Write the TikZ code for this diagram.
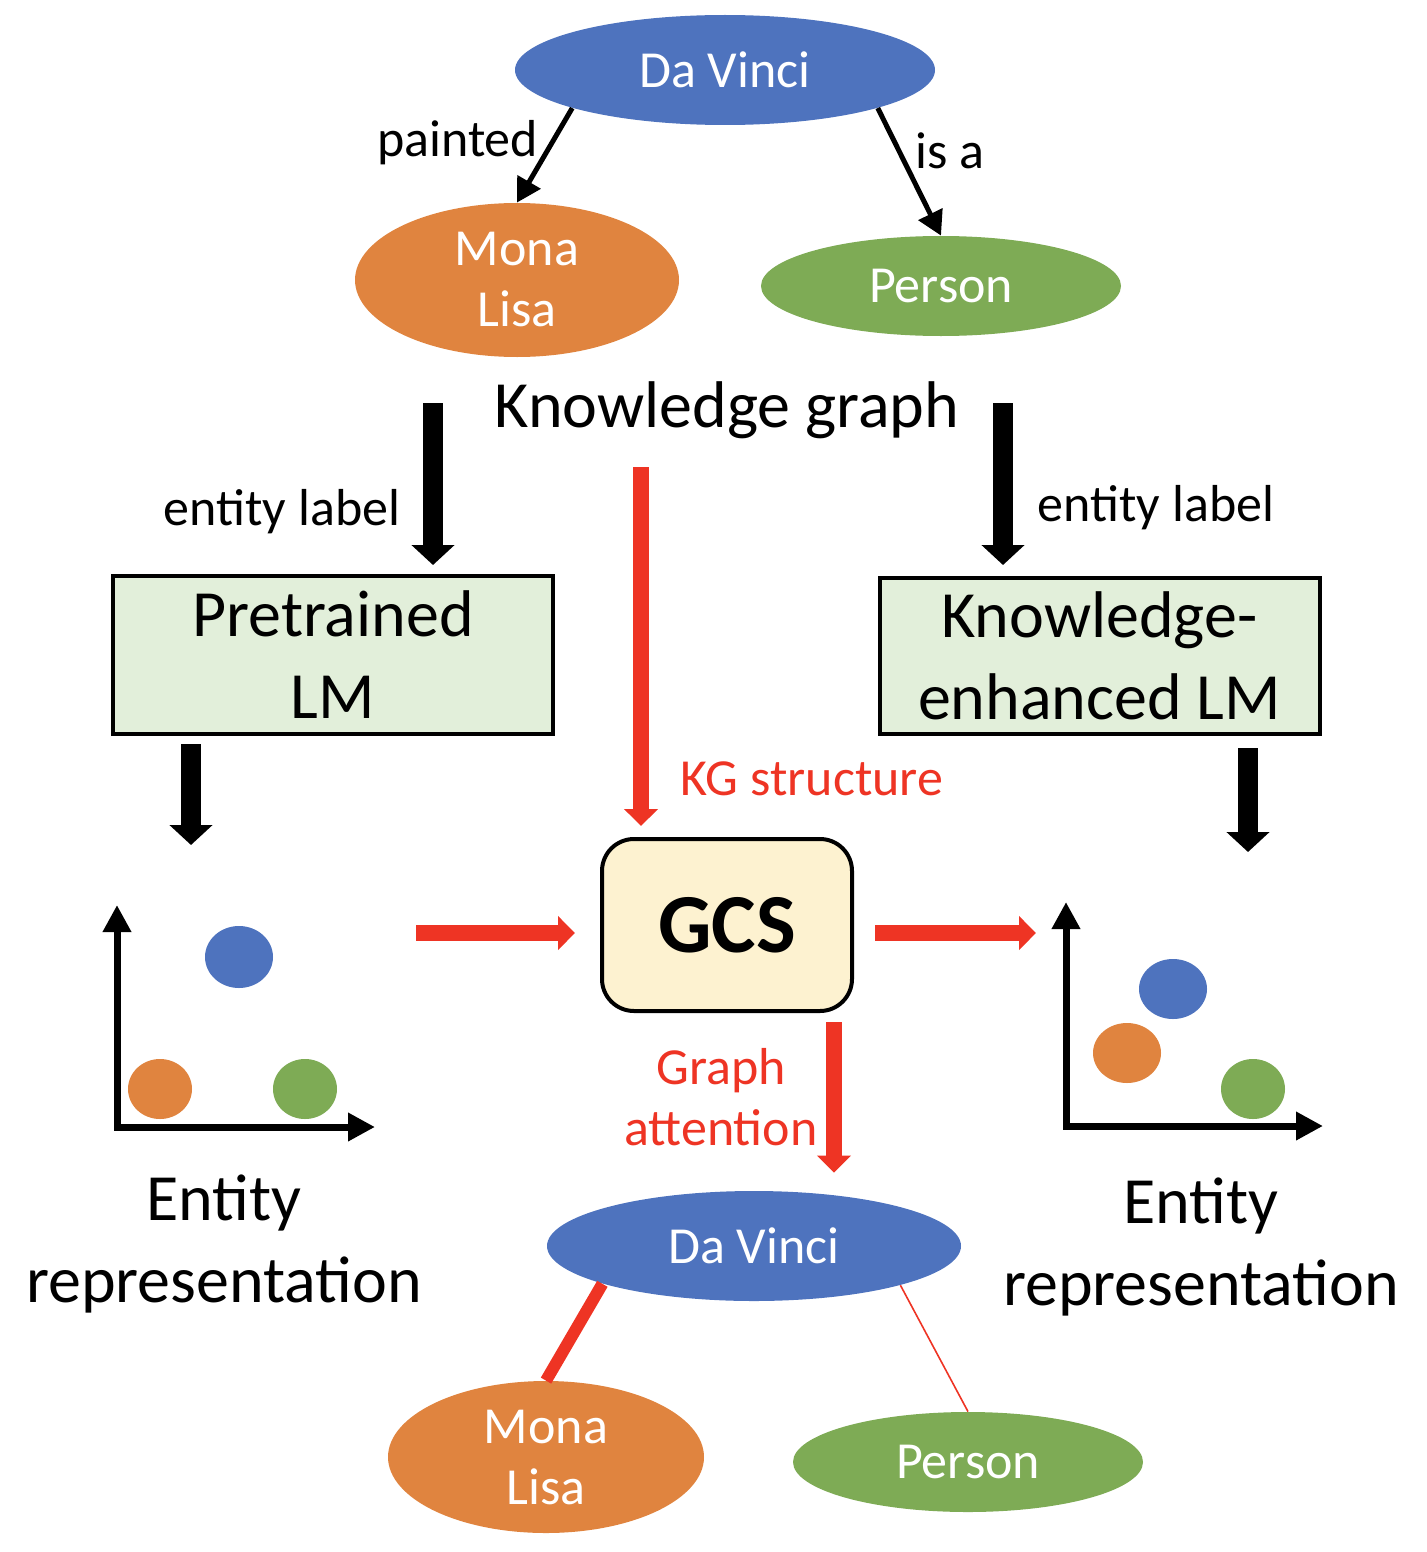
\documentclass[tikz,border=0pt]{standalone}
\usepackage{fontspec}
\setmainfont{Carlito}
\usetikzlibrary{arrows.meta,shapes.geometric,positioning,calc}

\definecolor{kgblue}{HTML}{4E73BE}
\definecolor{kgorange}{HTML}{E0843F}
\definecolor{kggreen}{HTML}{7EAB55}
\definecolor{kgred}{HTML}{EE3424}
\definecolor{lmgreen}{HTML}{E2EFDA}
\definecolor{gcsyellow}{HTML}{FDF2D0}

\begin{document}
\begin{tikzpicture}[
  x=0.5pt,
  y=-0.5pt,
]

  \tikzstyle{kgnode}=[ellipse,inner sep=0pt,text=white,align=center,font=\fontsize{26}{30.5}\selectfont]
  \tikzstyle{davinci}=[kgnode,fill=kgblue,minimum width=210pt,minimum height=55pt]
  \tikzstyle{mona}=[kgnode,fill=kgorange,minimum width=162pt,minimum height=77pt]
  \tikzstyle{person}=[kgnode,fill=kggreen,minimum width=180pt,minimum height=50pt]

  \tikzstyle{lmbox}=[draw,rectangle,line width=2pt,fill=lmgreen,minimum width=220pt,minimum height=79pt,inner sep=0pt,align=center,font=\fontsize{33}{41}\selectfont]
  \tikzstyle{gcsbox}=[draw,rectangle,rounded corners=16pt,line width=2pt,fill=gcsyellow,minimum width=125pt,minimum height=86pt,font=\fontsize{42}{50}\selectfont\bfseries]
  \tikzstyle{blob}=[ellipse,fill,inner sep=0pt,minimum width=32pt,minimum height=30pt]

  \tikzstyle{bigcap}=[align=center,font=\fontsize{33}{41}\selectfont]
  \tikzstyle{smallcap}=[align=center,font=\fontsize{26}{30.5}\selectfont]
  \tikzstyle{redlab}=[smallcap,text=kgred]

  \tikzstyle{pointer}=[draw,->,>={Triangle[width=13pt,length=12pt]},line width=2.5pt]
  \tikzstyle{ptrlab}=[smallcap,inner sep=2pt]
  \tikzstyle{fatarrow}=[draw,->,>={Triangle[width=21pt,length=10pt]},line width=10pt]
  \tikzstyle{redarrow}=[draw,kgred,->,>={Triangle[width=16.5pt,length=8.5pt]},line width=8pt]
  \tikzstyle{plotaxis}=[draw,<->,>={Triangle[width=13.5pt,length=13.5pt]},line width=3.5pt,line join=miter]
  \tikzstyle{attnstrong}=[draw,kgred,line width=6pt]
  \tikzstyle{attnweak}=[draw,kgred,line width=0.8pt]

  \useasboundingbox (0,0) rectangle (1426,1552);

  % knowledge graph
  \node[davinci] (kgDaVinci) at (725,70) {Da Vinci};
  \node[mona] (kgMona) at (517,280) {Mona\\Lisa};
  \node[person] (kgPerson) at (941,286) {Person};
  \node[bigcap] (kgTitle) at (727,410) {Knowledge graph};

  \draw[pointer] (kgDaVinci.194) -- node[ptrlab,left,yshift=6.5pt] {painted} (kgMona.north);
  \draw[pointer] (kgDaVinci.346) -- node[ptrlab,right,yshift=10.5pt] {is a} (kgPerson.north);

  % language models
  \node[lmbox] (pretrained) at (333,655) {Pretrained\\LM};
  \node[lmbox,minimum height=78pt] (enhanced) at (1099.5,656) {Knowledge-\\enhanced LM};

  \coordinate (leftIn) at (433,403);
  \coordinate (rightIn) at (1003,403);
  \draw[fatarrow,shorten >=4.5pt] (leftIn) -- (leftIn |- pretrained.north);
  \draw[fatarrow,shorten >=5.5pt] (rightIn) -- (rightIn |- enhanced.north);
  \node[smallcap] (leftLabel) at (282,512) {entity label};
  \node[smallcap] (rightLabel) at (1156,508) {entity label};

  \coordinate (leftOut) at (191,845);
  \coordinate (rightOut) at (1248,852);
  \draw[fatarrow,shorten <=4pt] (pretrained.south -| leftOut) -- (leftOut);
  \draw[fatarrow,shorten <=6pt] (enhanced.south -| rightOut) -- (rightOut);

  % GCS and the attention graph
  \node[gcsbox] (gcs) at (727,925) {GCS};
  \node[davinci,minimum width=207pt] (bDaVinci) at (754,1246) {Da Vinci};
  \node[mona,minimum width=158pt,minimum height=76pt] (bMona) at (546,1457) {Mona\\Lisa};
  \node[person,minimum width=175pt] (bPerson) at (968,1462) {Person};

  \coordinate (kgOut) at (641,467);
  \draw[redarrow,shorten >=5.5pt] (kgOut) -- (kgOut |- gcs.north);
  \node[redlab] (kgStruct) at (812,779) {KG structure};

  \coordinate (leftRepr) at (416,933);
  \coordinate (rightRepr) at (1036,933);
  \draw[redarrow,shorten >=12.5pt] (leftRepr) -- (leftRepr -| gcs.west);
  \draw[redarrow,shorten <=10.5pt] (rightRepr -| gcs.east) -- (rightRepr);

  \coordinate (attnOut) at (834,1100);
  \draw[redarrow,shorten <=4.5pt,shorten >=9pt] (gcs.south -| attnOut) -- (attnOut |- bDaVinci.north);
  \node[redlab] (attnLabel) at (721,1097) {Graph\\attention};

  \draw[attnstrong] (bDaVinci.194) -- (bMona.north);
  \draw[attnweak] (bDaVinci.345) -- (bPerson.north);

  % entity plots
  \coordinate (lOrigin) at (117,1127);
  \coordinate (lYTop) at (117,905);
  \coordinate (lXEnd) at (375,1127);
  \draw[plotaxis] (lYTop) -- (lOrigin) -- (lXEnd);
  \node[blob,kgblue,minimum width=34pt,minimum height=31pt] (lBlue) at (239,957) {};
  \node[blob,kgorange] (lOrange) at (160,1089) {};
  \node[blob,kggreen] (lGreen) at (305,1089) {};
  \node[bigcap] (lCaption) at (224,1244) {Entity\\representation};

  \coordinate (rOrigin) at (1066,1126);
  \coordinate (rYTop) at (1066,902);
  \coordinate (rXEnd) at (1323,1126);
  \draw[plotaxis] (rYTop) -- (rOrigin) -- (rXEnd);
  \node[blob,kgblue,minimum width=34pt] (rBlue) at (1173,989) {};
  \node[blob,kgorange,minimum width=34pt] (rOrange) at (1127,1053) {};
  \node[blob,kggreen] (rGreen) at (1253,1089) {};
  \node[bigcap] (rCaption) at (1201,1247) {Entity\\representation};

\end{tikzpicture}
\end{document}
